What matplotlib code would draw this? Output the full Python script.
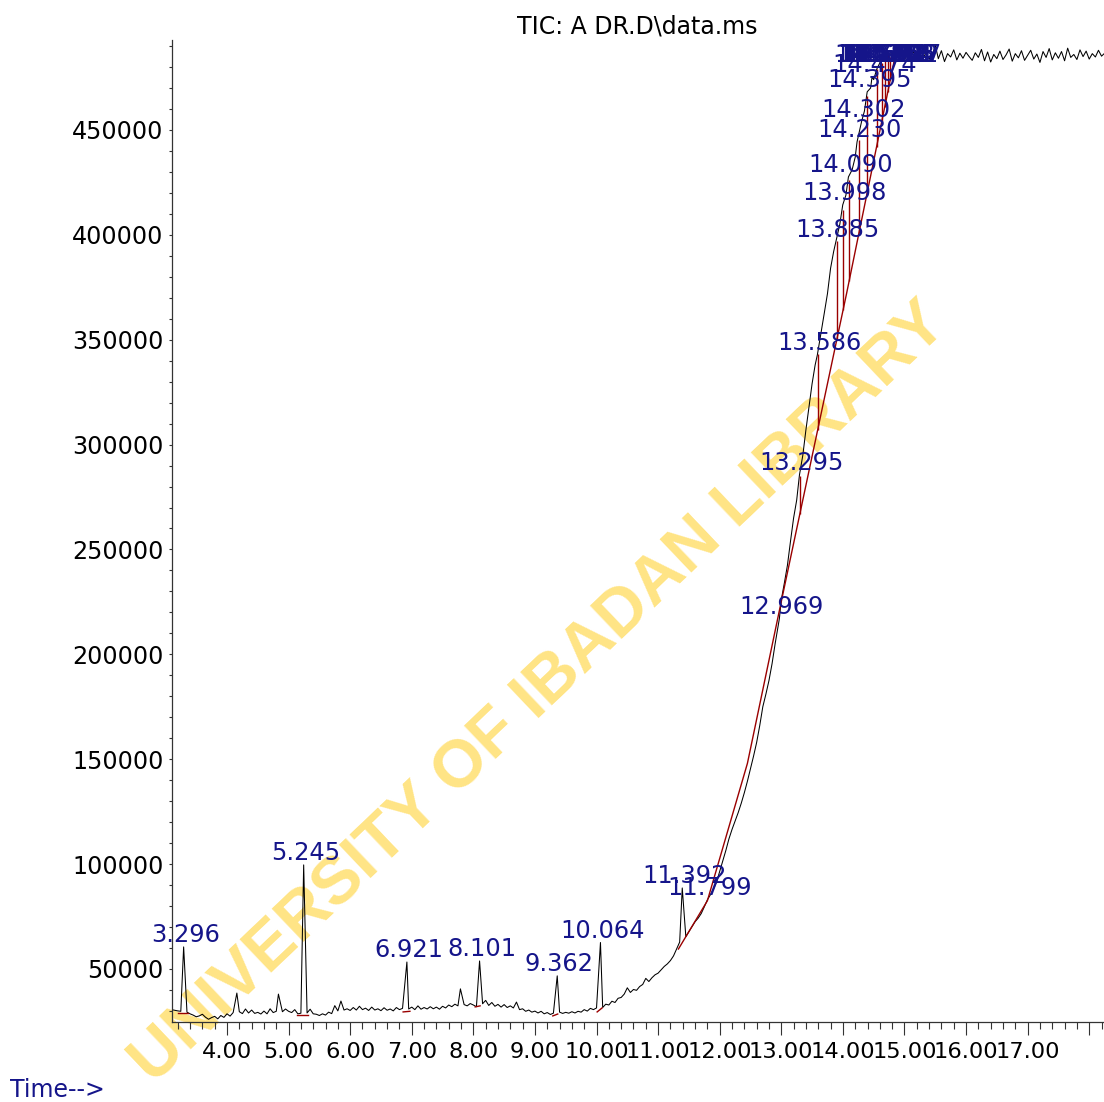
import matplotlib.pyplot as plt
import numpy as np

# TIC trace: one value (x1000 counts) every 0.05 min from 3.10 min
scan_start = 3.10
scan_step = 0.05
tic_k = [
    # 3.10 - 3.95
    30.6, 30.3, 30.0, 29.8, 29.6, 29.4, 28.6, 28.0, 27.2, 27.6, 28.4, 27.0, 26.0, 26.8, 27.4, 26.2, 27.8, 26.9,
    # 4
    28.6, 27.5, 29.2, 31.0, 29.6, 28.7, 30.9, 29.0, 30.4, 28.8, 29.3, 28.5, 29.9, 28.6, 31.0, 29.2, 29.8, 29.5, 29.6, 30.9,
    # 5
    29.8, 29.2, 30.6, 28.6, 28.9, 28.7, 29.0, 30.8, 28.6, 28.4, 27.8, 28.6, 28.0, 29.4, 28.7, 32.5, 30.0, 34.7, 30.4, 31.0,
    # 6
    30.2, 31.6, 30.4, 32.2, 30.6, 31.3, 30.2, 31.8, 30.4, 31.0, 30.1, 31.5, 30.3, 30.9, 30.0, 31.6, 30.6, 31.2, 30.8, 30.9,
    # 7
    31.8, 30.6, 32.4, 30.8, 31.6, 30.9, 32.0, 31.0, 31.8, 30.8, 32.2, 31.4, 32.8, 32.0, 33.2, 32.4, 32.6, 33.0, 32.4, 33.5,
    # 8
    32.8, 32.0, 32.6, 33.4, 35.0, 32.6, 34.0, 32.2, 33.1, 31.8, 33.0, 31.6, 32.4, 31.4, 34.2, 30.6, 31.0, 29.8, 30.4, 29.4,
    # 9
    29.9, 29.0, 29.8, 28.6, 29.2, 28.3, 28.9, 28.5, 29.4, 28.8, 29.3, 28.9, 29.6, 29.0, 29.8, 29.4, 30.6, 29.9, 31.2, 30.6,
    # 10
    31.4, 31.0, 31.6, 33.2, 32.8, 34.6, 34.0, 36.0, 36.4, 38.0, 41.0, 38.8, 40.2, 39.8, 41.6, 42.6, 45.5, 44.0, 45.8, 47.2,
    # 11
    48.0, 49.6, 51.2, 52.4, 54.0, 56.2, 59.5, 62.8, 64.0, 65.4, 67.8, 70.2, 72.5, 74.2, 76.4, 79.6, 82.8, 85.4, 88.2, 91.5,
    # 12
    96.5, 101.5, 106.5, 112.0, 116.5, 120.5, 124.5, 129.0, 134.0, 139.5, 145.5, 151.5, 158.0, 166.0, 175.0, 181.0, 187.5, 195.5, 205.0, 217.0,
    # 13
    226.0, 234.0, 242.5, 254.0, 265.0, 273.5, 284.0, 295.0, 307.0, 318.0, 329.0, 338.0, 345.0, 354.0, 363.0, 372.0, 384.0, 392.0, 398.0, 405.0,
    # 14
    412.0, 419.0, 426.0, 431.0, 437.0, 444.0, 452.0, 459.0, 466.0, 470.0, 474.0, 479.0, 482.0, 484.5, 486.5, 485.5, 487.0, 484.0, 488.5, 485.0,
    # 15
    483.5, 486.0, 484.5, 487.5, 483.0, 485.8, 484.2, 486.8, 483.8, 485.2, 490.5, 484.0, 487.8, 482.6, 486.4, 484.8, 488.2, 483.4, 486.6, 484.2,
    # 16
    487.0, 485.0, 483.2, 486.8, 484.6, 488.4, 483.0, 487.2, 482.4, 486.0, 484.0, 487.6, 483.6, 485.8, 488.6, 482.8, 486.4, 484.4, 487.8, 483.2,
    # 17
    485.6, 488.0, 483.8, 486.2, 482.2, 487.4, 484.6, 488.8, 483.4, 486.8, 484.2, 487.4, 483.0, 489.0, 484.6, 486.0, 483.6, 488.2, 485.0, 487.6,
    # 18.00 - 18.25
    483.8, 486.4, 484.8, 488.0, 485.2, 486.6,
]

# labelled peaks (retention time, apex x1000)
peak_rt = [3.296, 5.245, 6.921, 8.101, 9.362, 10.064, 11.392, 11.799, 12.969, 13.295,
           13.586, 13.885, 13.998, 14.090, 14.230, 14.302, 14.395, 14.474]
peak_k = [60.5, 99.6, 53.3, 53.8, 46.7, 62.6, 88.6, 82.9, 217.0, 285.5,
          342.8, 396.6, 414.3, 427.6, 444.3, 453.8, 468.2, 475.3]

# small unlabelled spikes
spike_rt = [4.160, 4.835, 7.790]
spike_k = [38.5, 38.0, 40.5]

# crowd of labels at the top of the ramp
crowd_rt = [14.521, 14.556, 14.592, 14.627, 14.661, 14.698, 14.734, 14.768, 14.805, 14.842, 14.887]
crowd_k = [480.0] * len(crowd_rt)

# integration baselines of the small peaks (start, end)
base_t0 = [3.21, 5.14, 6.86, 8.03, 9.29, 10.01]
base_k0 = [29.0, 28.0, 29.5, 31.9, 27.6, 29.5]
base_t1 = [3.36, 5.31, 6.97, 8.11, 9.37, 10.09]
base_k1 = [29.0, 28.0, 29.8, 32.4, 28.5, 31.4]

# long baseline under the ramp
ramp_base_t = [11.33, 11.80, 12.45, 12.97, 14.06, 14.84]
ramp_base_k = [59.5, 82.5, 148.0, 221.0, 372.0, 484.0]

# drop lines
drop_t = [13.30, 13.59, 13.90, 14.00, 14.10, 14.26, 14.39, 14.55, 14.63, 14.68, 14.73, 14.77]
drop_top_k = [285, 343, 397, 412, 426, 445, 466, 479, 482, 484, 486, 485]
drop_bot_k = [267, 307, 350, 364, 378, 401, 419, 442, 454, 461, 468, 474]

xtick_vals = list(range(4, 19))
xtick_labels = ['%.2f' % v for v in xtick_vals[:-1]] + ['']
ytick_vals = list(range(50000, 450001, 50000))

label_color = '#15158a'
red = '#9a0000'

fig = plt.figure(figsize=(11.04, 11.02), dpi=100)
ax = fig.add_axes([172 / 1104, 80 / 1102, 932 / 1104, 982 / 1102])
ax.patch.set_alpha(0)

# build the trace: scans plus the peak apexes
t_scan = scan_start + scan_step * np.arange(len(tic_k))
apex_t = np.array(peak_rt + spike_rt)
apex_k = np.array(peak_k + spike_k)
keep = np.min(np.abs(t_scan[:, None] - apex_t[None, :]), axis=1) > 0.022
t_all = np.concatenate([t_scan[keep], apex_t])
y_all = np.concatenate([np.array(tic_k)[keep], apex_k]) * 1000
order = np.argsort(t_all)
ax.plot(t_all[order], y_all[order], color='black', lw=0.75, zorder=2)

for a, b, c, d in zip(base_t0, base_k0, base_t1, base_k1):
    ax.plot([a, c], [b * 1000, d * 1000], color=red, lw=1.0, zorder=3)
ax.plot(ramp_base_t, np.array(ramp_base_k) * 1000, color=red, lw=1.0, zorder=3)
ax.vlines(drop_t, np.array(drop_bot_k) * 1000, np.array(drop_top_k) * 1000,
          colors=red, lw=1.0, zorder=3)

for rt, yk in zip(peak_rt + crowd_rt, peak_k + crowd_k):
    ax.annotate('%.3f' % rt, (rt, yk * 1000), xytext=(1.5, 3.5), textcoords='offset points',
                ha='center', va='baseline', fontsize=17.4, color=label_color,
                annotation_clip=False, zorder=5)

# watermark
ax.text(540 / 1104, 1 - 694 / 1102, 'UNIVERSITY OF IBADAN LIBRARY', transform=fig.transFigure,
        rotation=43.6, rotation_mode='anchor', ha='center', va='center',
        fontsize=48, fontweight='bold', family='Liberation Sans', color='#FFE485',
        zorder=0.5, clip_on=False)

ax.set_xlim(3.107, 18.24)
ax.set_ylim(24700, 492900)
ax.spines['top'].set_visible(False)
ax.spines['right'].set_visible(False)
for s in ['left', 'bottom']:
    ax.spines[s].set_color('#333333')
    ax.spines[s].set_linewidth(0.9)

ax.set_xticks(xtick_vals)
ax.set_xticklabels(xtick_labels)
ax.set_xticks(np.arange(3.2, 18.25, 0.2), minor=True)
ax.set_yticks(ytick_vals)
ax.set_yticklabels([str(v) for v in ytick_vals])
ax.set_yticks(np.arange(30000, 492000, 10000), minor=True)

ax.tick_params(axis='x', which='major', direction='out', length=9.5, width=0.8, pad=5,
               labelsize=16.2, color='#333333')
ax.tick_params(axis='x', which='minor', direction='out', length=5, width=0.8, color='#333333')
ax.tick_params(axis='y', which='both', direction='out', length=2.2, width=0.8, pad=4,
               labelsize=17.2, color='#333333')

fig.text(637 / 1104, 1 - 27 / 1102, 'TIC: A DR.D\\data.ms', ha='center', va='center', fontsize=17)
fig.text(10 / 1104, 1 - 1090 / 1102, 'Time-->', ha='left', va='center', fontsize=17, color=label_color)

fig.savefig('out.png', dpi=100)
